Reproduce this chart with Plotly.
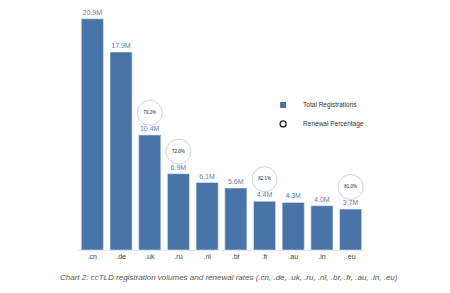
import plotly.graph_objects as go

categories = [".cn", ".de", ".uk", ".ru", ".nl", ".br", ".fr", ".au", ".in", ".eu"]
registrations = [20.9, 17.9, 10.4, 6.9, 6.1, 5.6, 4.4, 4.3, 4.0, 3.7]
renewal_cats = [".uk", ".ru", ".fr", ".eu"]
renewal_pct = [79.2, 72.0, 82.1, 81.0]

reg_map = dict(zip(categories, registrations))
circle_offset = 2.0
renewal_y = [reg_map[c] + circle_offset for c in renewal_cats]

bar_color = "#4a74a7"

fig = go.Figure()
fig.add_trace(go.Bar(
    x=categories, y=registrations, name="Total Registrations", showlegend=False,
    marker=dict(color=bar_color, line=dict(color="#dfe6ef", width=0.6)),
    text=[f"{v:.1f}M" for v in registrations], textposition="outside",
    textfont=dict(color="#5b82b3", size=7, family="Liberation Sans"),
    cliponaxis=False,
))
fig.add_trace(go.Scatter(
    x=renewal_cats, y=renewal_y, mode="markers+text", showlegend=False,
    marker=dict(size=25, color="white", line=dict(color="#c9d4e2", width=1)),
    text=[f"{v:.1f}%" for v in renewal_pct], textposition="middle center",
    textfont=dict(color="#222", size=4.5, family="Liberation Sans"),
    cliponaxis=False,
))
# legend entries
fig.add_trace(go.Scatter(
    x=[None], y=[None], mode="markers", name="Total Registrations",
    marker=dict(symbol="square", size=6, color=bar_color),
))
fig.add_trace(go.Scatter(
    x=[None], y=[None], mode="markers", name="Renewal Percentage",
    marker=dict(symbol="circle-open", size=6, color="#222", line=dict(width=1.3)),
))

fig.update_layout(
    width=450, height=293,
    margin=dict(l=78, r=85, t=10, b=43),
    paper_bgcolor="white", plot_bgcolor="white",
    bargap=0.23,
    showlegend=True,
    legend=dict(x=0.645, y=0.665, xanchor="left", yanchor="top",
                font=dict(size=6.5, color="#333", family="Liberation Sans"),
                bgcolor="rgba(0,0,0,0)", tracegroupgap=0),
    xaxis=dict(showgrid=False, showline=True, linecolor="#e2e6ec", linewidth=1,
               tickfont=dict(size=7, color="#444", family="Liberation Sans"),
               ticks="", range=[-0.5, 9.5]),
    yaxis=dict(visible=False, range=[0, 21.7]),
)
fig.add_annotation(
    text="<i>Chart 2: ccTLD registration volumes and renewal rates (.cn, .de, .uk, .ru, .nl, .br, .fr, .au, .in, .eu)</i>",
    xref="paper", yref="paper", x=(229 - 78) / 287, y=-27 / 240,
    xanchor="center", yanchor="middle", showarrow=False,
    font=dict(size=8, color="#555", family="Liberation Sans"),
)
fig.update_layout(font=dict(family="Liberation Sans"))
fig.write_html("out.html")
